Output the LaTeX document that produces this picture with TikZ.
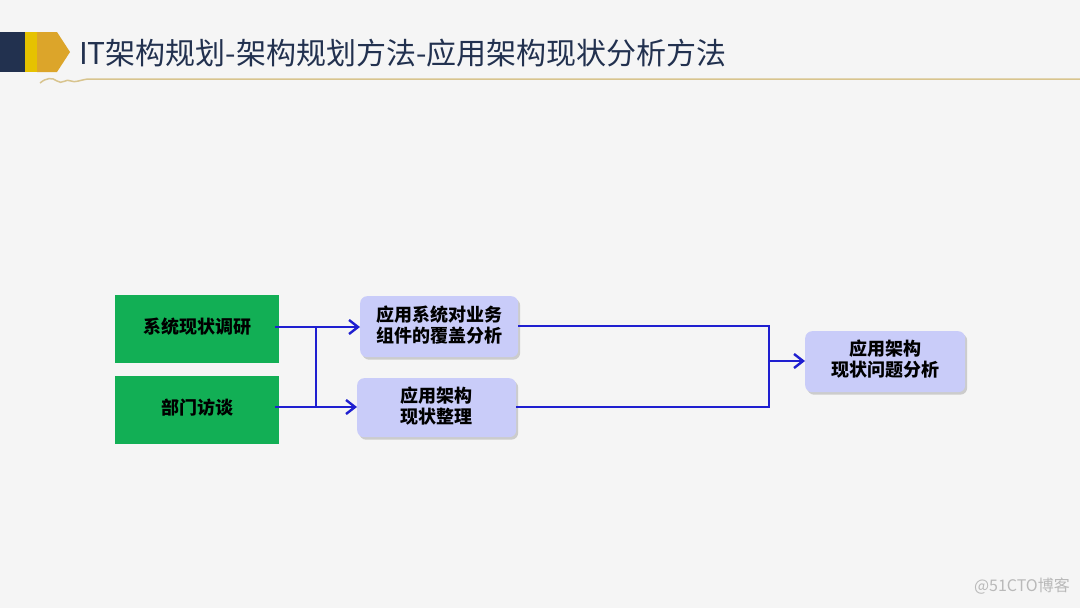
\documentclass[tikz,border=0pt]{standalone}
\usepackage{fontspec}
\newfontfamily\cjk{Noto Sans CJK SC}
\usetikzlibrary{arrows.meta,shadows}
\definecolor{bg}{HTML}{F5F5F5}
\definecolor{navy}{HTML}{22314F}
\definecolor{ylw}{HTML}{E6C200}
\definecolor{gold}{HTML}{DCA52A}
\definecolor{tan}{HTML}{D8C48E}
\definecolor{grn}{HTML}{12AF55}
\definecolor{lav}{HTML}{C9CCF9}
\definecolor{lnblue}{HTML}{1F1FD0}
\begin{document}
\begin{tikzpicture}[x=1pt,y=-1pt,
  greenbox/.style={fill=grn,draw=none,minimum width=164pt,minimum height=68pt,anchor=north west,inner sep=0pt},
  lavbox/.style={fill=lav,draw=none,rounded corners=7pt,anchor=north west,inner sep=0pt,drop shadow={shadow xshift=2pt,shadow yshift=-2.5pt,opacity=0.35,fill=gray}},
  boxtext/.style={align=center,font=\cjk\bfseries\fontsize{18}{21}\selectfont,text=black,inner sep=0pt},
  conn/.style={draw=lnblue,line width=2.6pt},
  arr/.style={conn,-{Straight Barb[length=9pt,width=14pt,line width=2.4pt]}}]
\useasboundingbox (0,0) rectangle (1080,608);
\fill[bg] (0,0) rectangle (1080,608);
% header
\fill[navy] (0,32) rectangle (25,72);
\fill[ylw] (25,32) rectangle (37,72);
\fill[gold] (37,32) -- (57,32) -- (70,52) -- (57,72) -- (37,72) -- cycle;
\node[anchor=west,inner sep=0pt,text=navy,font=\cjk\fontsize{30}{33}\selectfont] (title) at (79,53) {IT架构规划-架构规划方法-应用架构现状分析方法};
\draw[tan,line width=1.5pt] (40,83) .. controls (46,78) and (52,77) .. (57,81) .. controls (62,85) and (66,78) .. (71,81) .. controls (75,83) and (80,80) .. (88,79) -- (1080,79);
% boxes
\node[greenbox] (g1) at (115,295) {};
\node[greenbox] (g2) at (115,376) {};
\node[lavbox,minimum width=158pt,minimum height=61pt] (a) at (360,296) {};
\node[lavbox,minimum width=159pt,minimum height=59pt] (b) at (357,378) {};
\node[lavbox,minimum width=160pt,minimum height=61pt] (c) at (805,331) {};
\node[boxtext] (g1t) at ([yshift=3pt]g1.center) {系统现状调研};
\node[boxtext] (g2t) at ([yshift=3pt]g2.center) {部门访谈};
\node[boxtext] (at) at ([yshift=2pt]a.center) {应用系统对业务\\组件的覆盖分析};
\node[boxtext] (bt) at ([yshift=2pt]b.center) {应用架构\\现状整理};
\node[boxtext] (ct) at ([yshift=3pt]c.center) {应用架构\\现状问题分析};
% connectors
\coordinate (j1) at (316,327);
\coordinate (j2) at (316,407);
\coordinate (r1) at (769,326);
\coordinate (r2) at (769,407);
\coordinate (rm) at (769,361);
\draw[arr] (g1.east |- j1) ++(-4,0) -- (a.west |- j1);
\draw[arr] (g2.east |- j2) ++(-4,0) -- (b.west |- j2);
\draw[conn] (j1) -- (j2);
\draw[conn,line join=miter] (a.east |- r1) -- (r1) -- (r2) -- (b.east |- r2);
\draw[arr] (rm) -- (c.west |- rm);
% watermark
\node[anchor=east,inner sep=0pt,text=gray!55,font=\cjk\fontsize{16}{18}\selectfont] (wm) at (1070,586) {@51CTO博客};
\end{tikzpicture}
\end{document}
